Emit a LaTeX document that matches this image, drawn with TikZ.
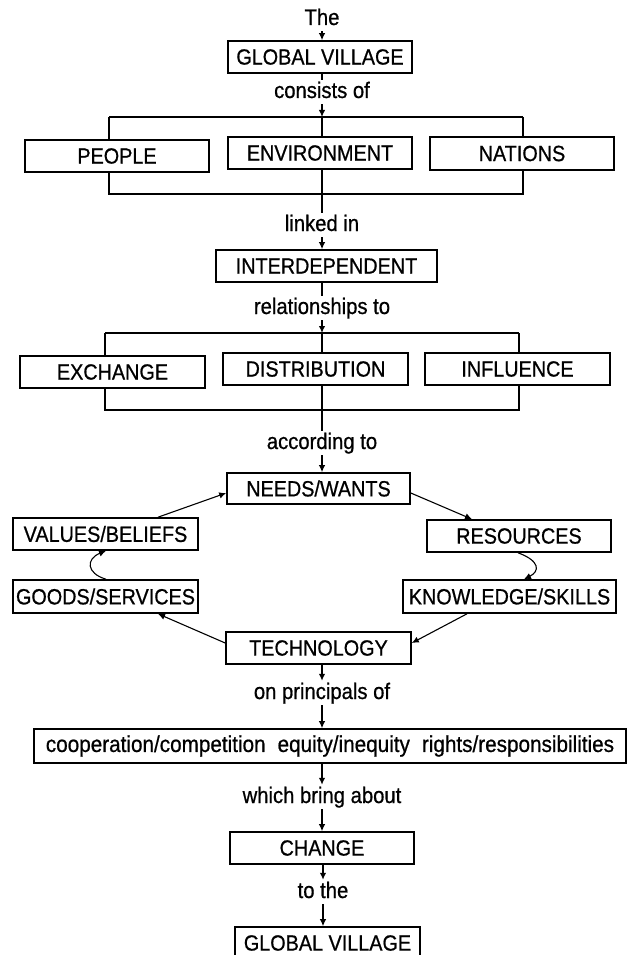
\documentclass[tikz,border=0pt]{standalone}
\usepackage{fontspec}
\setmainfont{Liberation Sans}[FakeStretch=0.9, FakeBold=0.7]
\usetikzlibrary{arrows.meta,calc}
\begin{document}
\begin{tikzpicture}[x=1pt,y=-1pt,
  box/.style={draw, line width=1.6pt, inner sep=0pt, font=\fontsize{22}{26}\selectfont},
  lbl/.style={inner xsep=0pt, inner ysep=2pt, text height=16pt, text depth=4pt, font=\fontsize{22.5}{26}\selectfont},
  con/.style={line width=1.3pt},
  arr/.style={line width=1.3pt, -{Latex[length=7pt,width=6.5pt]}},
  cyc/.style={line width=1.1pt, -{Latex[length=7pt,width=6.5pt]}}]
\useasboundingbox (0,0) rectangle (626,955);

% ---- nodes ----
\node[lbl] (the) at (322,19) {The};
\node[box, minimum width=184pt, minimum height=32pt] (gv1) at (320,57) {GLOBAL VILLAGE};
\node[lbl] (consists) at (322,92) {consists of};
\node[box, minimum width=184pt, minimum height=32pt] (people) at (117,156) {PEOPLE};
\node[box, minimum width=184pt, minimum height=32pt] (env) at (320,153) {ENVIRONMENT};
\node[box, minimum width=184pt, minimum height=33pt] (nations) at (522,153.5) {NATIONS};
\node[lbl] (linked) at (322,225) {linked in};
\node[box, minimum width=221pt, minimum height=32pt] (inter) at (326.5,266) {INTERDEPENDENT};
\node[lbl] (relations) at (322,308) {relationships to};
\node[box, minimum width=185pt, minimum height=32pt] (exchange) at (112.5,372) {EXCHANGE};
\node[box, minimum width=185pt, minimum height=32pt] (distrib) at (315.5,369) {DISTRIBUTION};
\node[box, minimum width=185pt, minimum height=32pt] (influence) at (517.5,369) {INFLUENCE};
\node[lbl] (according) at (322,443) {according to};
\node[box, minimum width=183pt, minimum height=31pt] (needs) at (318.5,488.5) {NEEDS/WANTS};
\node[box, minimum width=185pt, minimum height=32pt] (values) at (105.5,534) {VALUES/BELIEFS};
\node[box, minimum width=184pt, minimum height=32pt] (resources) at (519,536) {RESOURCES};
\node[box, minimum width=185pt, minimum height=33pt] (goods) at (105.5,596.5) {GOODS/SERVICES};
\node[box, minimum width=213pt, minimum height=33pt] (knowledge) at (509.5,596.5) {KNOWLEDGE/SKILLS};
\node[box, minimum width=185pt, minimum height=32pt] (tech) at (318.5,648) {TECHNOLOGY};
\node[lbl] (principals) at (322,693) {on principals of};
\node[box, minimum width=592pt, minimum height=34pt, font=\fontsize{23}{26}\selectfont] (long) at (330,746) {cooperation/competition\hspace{12pt}equity/inequity\hspace{12pt}rights/responsibilities};
\node[lbl] (bring) at (322,797) {which bring about};
\node[box, minimum width=184pt, minimum height=32pt] (change) at (322,848) {CHANGE};
\node[lbl] (tothe) at (323,892) {to the};
\node[box, minimum width=185pt, minimum height=32pt] (gv2) at (327.5,943) {GLOBAL VILLAGE};

% ---- bracket coordinates ----
\coordinate (b1tl) at (109,117);
\coordinate (b1tm) at (322,117);
\coordinate (b1tr) at (523,117);
\coordinate (b1bl) at (109,194);
\coordinate (b1bm) at (322,194);
\coordinate (b1br) at (523,194);
\coordinate (b2tl) at (105,333);
\coordinate (b2tm) at (322,333);
\coordinate (b2tr) at (519,333);
\coordinate (b2bl) at (105,410);
\coordinate (b2bm) at (322,410);
\coordinate (b2br) at (519,410);

% ---- top part ----
\draw[arr] (the.south) -- (the.south |- gv1.north);
\draw[con] (consists |- gv1.south) -- (consists.north);
\draw[arr] (consists.south) -- (b1tm);
\draw[con] (b1tl) -- (b1tr);
\draw[con] (b1tl) -- (b1tl |- people.north);
\draw[con] (b1tm) -- (b1tm |- env.north);
\draw[con] (b1tr) -- (b1tr |- nations.north);
\draw[con] (b1bl |- people.south) -- (b1bl) -- (b1br) -- (b1br |- nations.south);
\draw[con] (b1bm |- env.south) -- (linked.north);
\draw[arr] (linked.south) -- (linked.south |- inter.north);

\draw[con] (relations |- inter.south) -- (relations.north);
\draw[arr] (relations.south) -- (b2tm);
\draw[con] (b2tl) -- (b2tr);
\draw[con] (b2tl) -- (b2tl |- exchange.north);
\draw[con] (b2tm) -- (b2tm |- distrib.north);
\draw[con] (b2tr) -- (b2tr |- influence.north);
\draw[con] (b2bl |- exchange.south) -- (b2bl) -- (b2br) -- (b2br |- influence.south);
\draw[con] (b2bm |- distrib.south) -- (according.north);
\draw[arr] (according.south) -- (according.south |- needs.north);

% ---- cycle ----
\draw[cyc] ([xshift=52.5pt]values.north) -- ([yshift=-4.5pt]needs.west);
\draw[cyc] ([yshift=-4.5pt]needs.east) -- ([xshift=-47pt]resources.north);
\draw[cyc] ([xshift=-1pt]resources.south) .. controls +(22,8) and +(16,-8) .. ([xshift=14.5pt]knowledge.north);
\draw[cyc] ([xshift=-42.5pt]knowledge.south) -- ([yshift=5pt]tech.east);
\draw[cyc] ([yshift=5pt]tech.west) -- ([xshift=52.5pt]goods.south);
\draw[cyc] ([xshift=0.5pt]goods.north) .. controls +(-20,-6) and +(-20,8) .. ([xshift=0.5pt]values.south);

% ---- bottom part ----
\draw[arr] (principals |- tech.south) -- (principals.north);
\draw[arr] (principals.south) -- (principals.south |- long.north);
\draw[arr] (bring |- long.south) -- (bring.north);
\draw[arr] (bring.south) -- (bring.south |- change.north);
\draw[arr] (tothe |- change.south) -- (tothe.north);
\draw[arr] (tothe.south) -- (tothe.south |- gv2.north);
\end{tikzpicture}
\end{document}
